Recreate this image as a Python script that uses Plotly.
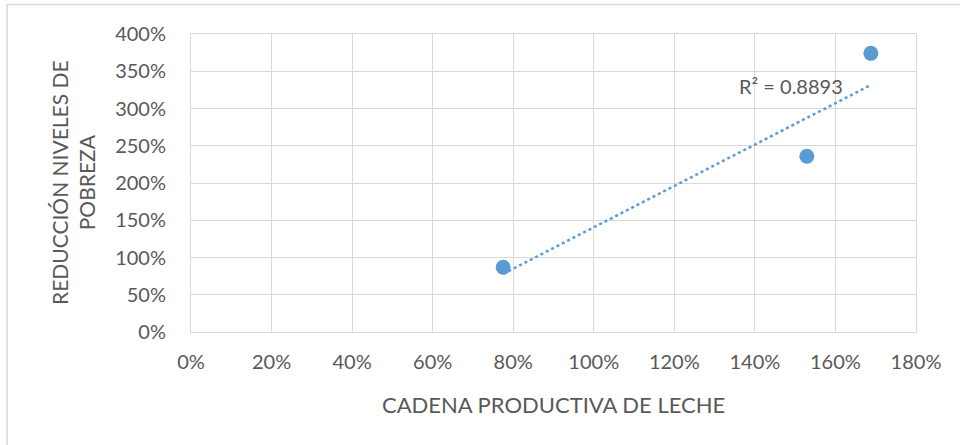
import numpy as np
import plotly.graph_objects as go

# Data (fractions)
cadena_leche = [0.775, 1.529, 1.688]
reduccion_pobreza = [0.87, 2.36, 3.74]
r2_label = "R² = 0.8893"

x_ticks = [0, 0.2, 0.4, 0.6, 0.8, 1.0, 1.2, 1.4, 1.6, 1.8]
y_ticks = [0, 0.5, 1.0, 1.5, 2.0, 2.5, 3.0, 3.5, 4.0]

x_title = "CADENA PRODUCTIVA DE LECHE"
y_title = "REDUCCIÓN NIVELES DE<br>POBREZA"

blue = "#5B9BD5"
grey_text = "#595959"
grid = "#D9D9D9"
FONT = "Lato, Carlito, Open Sans, sans-serif"

# linear trendline from the data
xs = np.array(cadena_leche)
ys = np.array(reduccion_pobreza)
m, b = np.polyfit(xs, ys, 1)
tx = np.linspace(xs.min(), xs.max(), 50)
ty = m * tx + b

fig = go.Figure()
fig.add_trace(go.Scatter(x=tx, y=ty, mode="lines",
                         line=dict(color=blue, width=2.5, dash="dot"),
                         hoverinfo="skip", showlegend=False))
fig.add_trace(go.Scatter(x=cadena_leche, y=reduccion_pobreza, mode="markers",
                         marker=dict(color=blue, size=15), showlegend=False))

W, H = 960, 445
L, R, T, B = 191, 44, 34, 113
pw, ph = W - L - R, H - T - B

def px_to_paper_x(px):
    return (px - L) / pw

def py_to_paper_y(py):
    return (H - B - py) / ph

fig.update_layout(
    width=W, height=H,
    margin=dict(l=L, r=R, t=T, b=B),
    paper_bgcolor="white", plot_bgcolor="white",
    font=dict(family=FONT, color=grey_text, size=20),
    xaxis=dict(range=[0, 1.8], tickvals=x_ticks, tickformat=".0%",
               showgrid=True, gridcolor=grid, gridwidth=1,
               showline=True, linecolor=grid, linewidth=1, mirror=True,
               zeroline=False, ticks="", ticklabelstandoff=12,
               tickfont=dict(size=20, color=grey_text)),
    yaxis=dict(range=[0, 4.0], tickvals=y_ticks, tickformat=".0%",
               showgrid=True, gridcolor=grid, gridwidth=1,
               showline=True, linecolor=grid, linewidth=1, mirror=True,
               zeroline=False, ticks="", ticklabelstandoff=20,
               tickfont=dict(size=20, color=grey_text)),
    annotations=[
        dict(text=r2_label, x=1.49, y=3.3, xref="x", yref="y",
             showarrow=False, font=dict(size=20, color=grey_text),
             xanchor="center", yanchor="middle"),
        dict(text=x_title, x=px_to_paper_x(553), y=py_to_paper_y(404),
             xref="paper", yref="paper", showarrow=False,
             font=dict(size=22, color=grey_text),
             xanchor="center", yanchor="middle"),
        dict(text=y_title, x=px_to_paper_x(73), y=py_to_paper_y(183),
             xref="paper", yref="paper", showarrow=False, textangle=-90,
             font=dict(size=21, color=grey_text),
             xanchor="center", yanchor="middle"),
    ],
    shapes=[
        dict(type="rect", xref="paper", yref="paper",
             x0=px_to_paper_x(7), x1=px_to_paper_x(980),
             y0=py_to_paper_y(470), y1=py_to_paper_y(4.5),
             line=dict(color="#D9D9D9", width=1.5), layer="below"),
    ],
)

fig.write_html("out.html", config={"displayModeBar": False},
               post_script="document.body.style.margin='0';document.body.style.padding='0';")
